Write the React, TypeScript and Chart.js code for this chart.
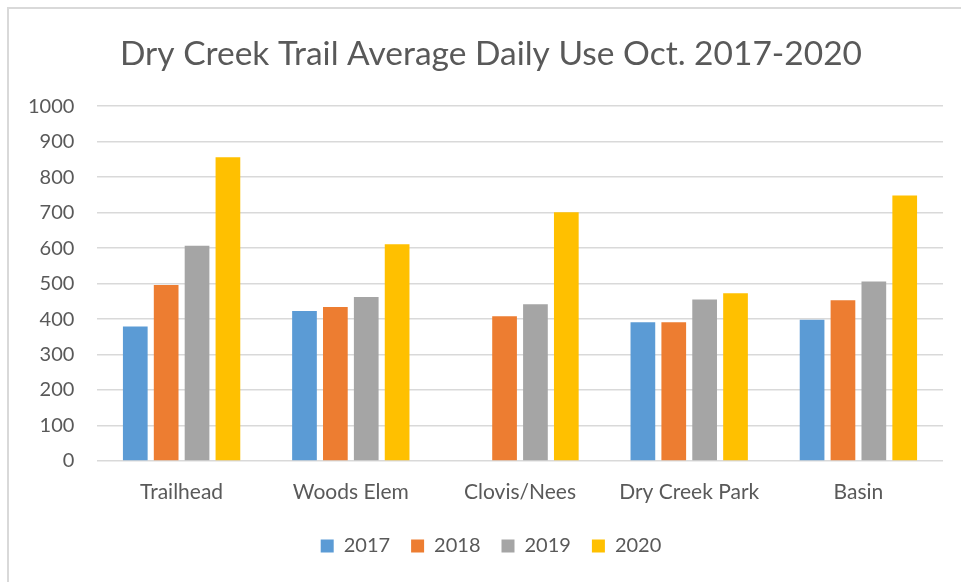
import React, { useEffect, useRef } from "react";
import { Chart, registerables } from "chart.js";

Chart.register(...registerables);

const categories = ["Trailhead", "Woods Elem", "Clovis/Nees", "Dry Creek Park", "Basin"];
const series2017 = [379, 423, null, 391, 398];
const series2018 = [496, 434, 408, 391, 453];
const series2019 = [607, 462, 442, 455, 506];
const series2020 = [856, 611, 701, 473, 748];
const seriesNames = ["2017", "2018", "2019", "2020"];
const colors = ["#5B9BD5", "#ED7D31", "#A5A5A5", "#FFC000"];
const titleText = "Dry Creek Trail Average Daily Use Oct. 2017-2020";

const FONT = "Lato, 'Open Sans', sans-serif";
const TEXT = "#595959";

export default function App() {
  const ref = useRef<HTMLCanvasElement | null>(null);
  useEffect(() => {
    if (!ref.current) return;
    const all = [series2017, series2018, series2019, series2020];
    const chart = new Chart(ref.current, {
      type: "bar",
      data: {
        labels: categories,
        datasets: all.map((d, i) => ({
          label: seriesNames[i],
          data: d as any,
          backgroundColor: colors[i],
          borderColor: "#ffffff",
          borderWidth: 0,
          barPercentage: 0.8,
          categoryPercentage: 0.73,
        })),
      },
      options: {
        animation: false,
        responsive: false,
        maintainAspectRatio: false,
        layout: { padding: { left: 39, right: 18, top: 0, bottom: 16 } },
        plugins: {
          title: {
            display: true,
            text: titleText,
            color: TEXT,
            font: { family: FONT, size: 33.5, weight: "normal" },
            padding: { top: 34, bottom: 32 },
          },
          legend: {
            position: "bottom",
            labels: {
              color: TEXT,
              font: { family: FONT, size: 20 },
              boxWidth: 13,
              boxHeight: 13,
              padding: 21,
            },
          },
          tooltip: { enabled: false },
        },
        scales: {
          x: {
            grid: { display: false, drawTicks: false },
            border: { display: false },
            ticks: { color: TEXT, font: { family: FONT, size: 21 }, padding: 19 },
            afterFit: (s: any) => { s.height = 54; },
          },
          y: {
            min: 0,
            max: 1000,
            grid: { color: "#D9D9D9", lineWidth: 1.5, drawTicks: false },
            border: { display: false },
            ticks: {
              stepSize: 100,
              color: TEXT,
              font: { family: FONT, size: 20 },
              mirror: true,
              crossAlign: "far",
              padding: -69,
              callback: (v: any) => String(v),
            },
            afterFit: (s: any) => { s.width = 58; },
          },
        },
      },
    });
    return () => chart.destroy();
  }, []);
  return (
    <div style={{ position: "absolute", left: 0, top: 0, width: 961, height: 582, background: "#fff" }}>
      <div style={{ position: "absolute", left: 7, top: 7, width: 954, height: 575, borderLeft: "2px solid #D9D9D9", borderTop: "2px solid #D9D9D9" }} />
      <canvas ref={ref} width={961} height={582} style={{ position: "absolute", left: 0, top: 0 }} />
    </div>
  );
}
